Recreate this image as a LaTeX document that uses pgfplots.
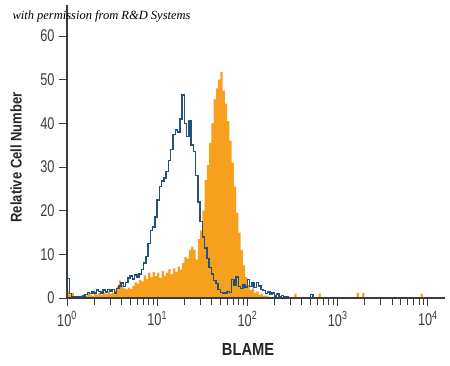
\documentclass[border=0pt]{standalone}
\usepackage{pgfplots}
\pgfplotsset{compat=1.18}
\usepackage{pgfplotstable}
\usepackage{fontspec}
\setmainfont{Liberation Sans}
\newfontfamily\tickfont{Liberation Sans}[FakeStretch=0.75]
\newfontfamily\labfont{Liberation Sans}[FakeStretch=0.84]
\newfontfamily\credfont{Liberation Serif}
\definecolor{rdorange}{RGB}{247,160,30}
\definecolor{rdblue}{RGB}{36,82,122}
\definecolor{axgray}{RGB}{60,60,60}

\pgfplotstableread{
lx y
0.000 4.5
0.025 1.0
0.050 0.3
0.075 0.2
0.100 0.2
0.125 0.3
0.150 0.2
0.175 0.5
0.200 0.8
0.225 1.3
0.250 1.0
0.275 1.5
0.300 1.2
0.325 1.8
0.350 1.5
0.375 1.0
0.400 1.8
0.425 1.4
0.450 2.0
0.475 1.6
0.500 1.9
0.525 1.2
0.550 2.2
0.575 2.8
0.600 3.4
0.625 2.6
0.650 3.5
0.675 4.6
0.700 5.0
0.725 4.4
0.750 5.3
0.775 4.8
0.800 5.5
0.825 6.5
0.850 8.0
0.875 9.5
0.900 12.5
0.925 15.5
0.950 16.3
0.975 18.5
1.000 22.5
1.025 25.5
1.050 26.8
1.075 27.5
1.100 29.0
1.125 31.5
1.150 34.0
1.175 37.5
1.200 38.5
1.225 38.0
1.250 41.0
1.275 46.5
1.300 40.0
1.325 37.0
1.350 40.5
1.375 35.0
1.400 33.5
1.425 28.0
1.450 22.0
1.475 17.5
1.500 14.0
1.525 11.5
1.550 9.0
1.575 7.0
1.600 5.5
1.625 4.0
1.650 3.3
1.675 2.0
1.700 1.3
1.725 1.1
1.750 1.2
1.775 1.5
1.800 1.3
1.825 4.2
1.850 3.0
1.875 4.8
1.900 2.6
1.925 2.2
1.950 3.0
1.975 2.5
2.000 4.2
2.025 2.6
2.050 3.5
2.075 2.4
2.100 3.6
2.125 2.8
2.150 2.0
2.175 1.7
2.200 1.0
2.225 1.4
2.250 0.8
2.275 1.1
2.300 0.5
2.325 0.9
2.350 0.4
2.375 0.6
2.400 0.2
2.425 0.3
2.450 0.1
2.475 0.0
2.700 0.8
2.725 0.0
4.000 0.0
}\blueiso

\pgfplotstableread{
lx y
0.000 1.5
0.025 0.8
0.050 1.2
0.075 0.3
0.100 0.2
0.125 0.1
0.150 0.2
0.175 0.8
0.200 0.5
0.225 1.2
0.250 0.8
0.275 0.5
0.300 1.0
0.325 0.8
0.350 1.3
0.375 0.7
0.400 1.2
0.425 0.9
0.450 1.5
0.475 1.0
0.500 1.3
0.525 1.8
0.550 2.6
0.575 4.0
0.600 3.0
0.625 2.2
0.650 2.0
0.675 2.4
0.700 2.1
0.725 2.8
0.750 3.6
0.775 3.3
0.800 4.2
0.825 3.8
0.850 5.2
0.875 4.4
0.900 5.8
0.925 4.8
0.950 6.0
0.975 5.0
1.000 5.8
1.025 4.6
1.050 6.2
1.075 5.1
1.100 5.8
1.125 6.6
1.150 5.4
1.175 6.8
1.200 6.0
1.225 7.2
1.250 6.5
1.275 8.0
1.300 9.4
1.325 9.0
1.350 11.0
1.375 11.7
1.400 11.0
1.425 8.8
1.450 13.5
1.475 15.5
1.500 20.0
1.525 27.0
1.550 30.5
1.575 35.5
1.600 40.0
1.625 45.5
1.650 48.0
1.675 50.0
1.700 51.8
1.725 47.5
1.750 44.5
1.775 40.5
1.800 36.0
1.825 31.0
1.850 25.5
1.875 19.5
1.900 15.0
1.925 11.0
1.950 7.5
1.975 4.8
2.000 3.0
2.025 1.8
2.050 2.2
2.075 1.2
2.100 1.5
2.125 0.8
2.150 1.0
2.175 0.5
2.200 0.6
2.225 0.3
2.250 0.2
2.275 0.0
2.520 1.0
2.545 0.0
2.790 1.0
2.815 0.0
3.210 1.2
3.235 0.0
3.270 1.1
3.295 0.0
3.920 1.0
3.945 0.0
4.000 0.0
}\stained

\begin{document}
\begin{tikzpicture}
\begin{axis}[
  at={(0,0)}, anchor=south west,
  scale only axis, width=378pt, height=293pt,
  xmin=0, xmax=4.19, ymin=0, ymax=67.1,
  axis lines*=left,
  axis line style={axgray, line width=1.1pt},
  every tick/.style={axgray, line width=0.9pt},
  tick align=outside,
  major tick length=8pt, minor tick length=7pt,
  xtick={0,1,2,3,4},
  xticklabels={10\textsuperscript{0},10\textsuperscript{1},10\textsuperscript{2},10\textsuperscript{3},10\textsuperscript{4}},
  minor xtick={0.30103,0.47712,0.60206,0.69897,0.77815,0.84510,0.90309,0.95424,
    1.30103,1.47712,1.60206,1.69897,1.77815,1.84510,1.90309,1.95424,
    2.30103,2.47712,2.60206,2.69897,2.77815,2.84510,2.90309,2.95424,
    3.30103,3.47712,3.60206,3.69897,3.77815,3.84510,3.90309,3.95424},
  ytick={0,10,...,60},
  /pgf/number format/assume math mode=true,
  tick label style={font=\tickfont\fontsize{17}{19}\selectfont, text=axgray},
  xticklabel style={yshift=-2pt},
  yticklabel style={xshift=-1pt},
  xlabel={BLAME},
  ylabel={Relative Cell Number},
  every axis x label/.style={at={(axis description cs:0.479,-0.174)}, anchor=center,
    font=\labfont\bfseries\fontsize{17.5}{19}\selectfont, text=black!85},
  every axis y label/.style={at={(axis description cs:-0.135,0.48)}, rotate=90, anchor=center,
    font=\labfont\bfseries\fontsize{15.5}{17}\selectfont, text=black!85},
  clip=false,
  axis on top,
]
\addplot[const plot, fill=rdorange, draw=none] table[x=lx, y=y] {\stained} \closedcycle;
\addplot[const plot, draw=rdblue, line width=1.5pt] table[x=lx, y=y] {\blueiso};
\end{axis}
\node[anchor=west, font=\credfont\itshape\fontsize{12.5}{14}\selectfont] at (-58pt,282pt) {with permission from R\&D Systems};
\pgfresetboundingbox
\path (-67pt,-67pt) rectangle (383pt,298pt);
\end{tikzpicture}
\end{document}
